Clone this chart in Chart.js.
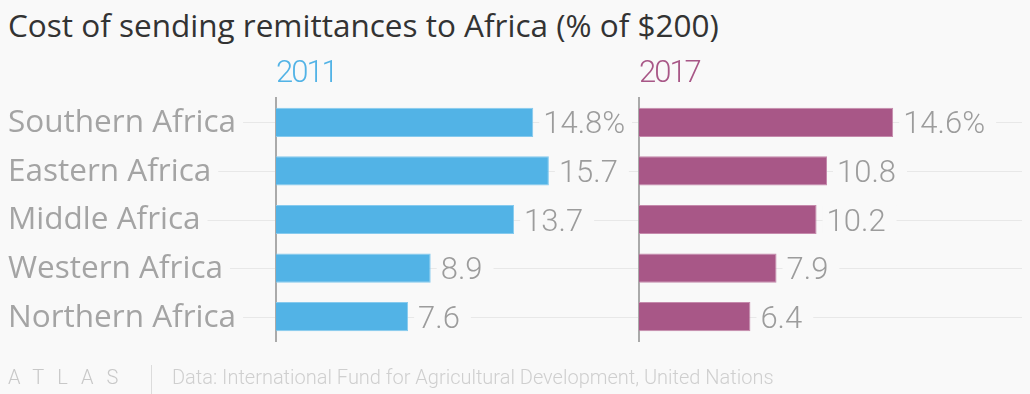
<!DOCTYPE html>
<html>
<head>
<meta charset="utf-8">
<script src="https://cdn.jsdelivr.net/npm/chart.js@4/dist/chart.umd.min.js"></script>
<style>
  body { margin: 0; background: #f9f9f9; width: 1030px; height: 394px; overflow: hidden; position: relative; font-family: Roboto, sans-serif; }
  #title { position: absolute; left: 8px; top: 3px; font: 400 31.5px "Open Sans"; color: #333; white-space: nowrap; }
  #left { position: absolute; left: 0; top: 0; }
  #right { position: absolute; left: 632px; top: 0; }
  #logo { position: absolute; left: 8px; top: 365px; font: 300 20px Roboto; letter-spacing: 13px; color: #c8c8c8; white-space: nowrap; }
  #sep { position: absolute; left: 151px; top: 365px; width: 1px; height: 29px; background: #dcdcdc; }
  #source { position: absolute; left: 172px; top: 365px; font: 300 20px Roboto; color: #cfcfcf; white-space: nowrap; }
</style>
</head>
<body>
<div id="title">Cost of sending remittances to Africa (% of $200)</div>
<canvas id="left" width="641" height="394"></canvas>
<canvas id="right" width="398" height="394"></canvas>
<div id="logo">ATLAS</div>
<div id="sep"></div>
<div id="source">Data: International Fund for Agricultural Development, United Nations</div>
<script>
const regions = ['Southern Africa', 'Eastern Africa', 'Middle Africa', 'Western Africa', 'Northern Africa'];
const cost2011 = [14.8, 15.7, 13.7, 8.9, 7.6];
const cost2017 = [14.6, 10.8, 10.2, 7.9, 6.4];
const years = ['2011', '2017'];

const bg = '#f9f9f9';

// light row lines behind everything, masked by the label backdrops
const rowLines = {
  id: 'rowLines',
  beforeDraw(chart, args, opts) {
    const ctx = chart.ctx;
    const y = chart.scales.y;
    ctx.save();
    ctx.strokeStyle = '#e8e8e8';
    ctx.lineWidth = 1;
    regions.forEach((r, i) => {
      const py = Math.round(y.getPixelForValue(i)) + 0.5;
      ctx.beginPath();
      ctx.moveTo(opts.from, py);
      ctx.lineTo(opts.to == null ? chart.chartArea.right : opts.to, py);
      ctx.stroke();
    });
    ctx.restore();
  }
};

// value at the end of each bar + the year above the panel
const valueLabels = {
  id: 'valueLabels',
  afterDatasetsDraw(chart) {
    const ctx = chart.ctx;
    const ds = chart.data.datasets[0];
    const meta = chart.getDatasetMeta(0);
    ctx.save();
    ctx.font = '300 31px Roboto';
    ctx.textBaseline = 'alphabetic';
    meta.data.forEach((bar, i) => {
      const txt = ds.data[i].toFixed(1) + (i === 0 ? '%' : '');
      const x = bar.x + 10;
      const w = ctx.measureText(txt).width;
      ctx.fillStyle = bg;
      ctx.fillRect(x - 4, bar.y - 14, w + 15, 28);
      ctx.fillStyle = '#9c9c9c';
      ctx.fillText(txt, x, bar.y + 11);
    });
    ctx.fillStyle = ds.backgroundColor;
    ctx.letterSpacing = '-2px';
    ctx.fillText(ds.label, chart.chartArea.left, 82);
    ctx.restore();
  }
};

function panel(id, values, label, color, edge, max, pad, withLabels, lineFrom, lineTo) {
  return new Chart(document.getElementById(id), {
    type: 'bar',
    data: {
      labels: regions,
      datasets: [{
        label: label,
        data: values,
        backgroundColor: color,
        borderColor: edge,
        borderWidth: 1,
        barPercentage: 0.6,
        categoryPercentage: 1
      }]
    },
    options: {
      indexAxis: 'y',
      responsive: false,
      animation: false,
      layout: { padding: pad },
      plugins: {
        legend: { display: false },
        tooltip: { enabled: false },
        rowLines: { from: lineFrom, to: lineTo }
      },
      scales: {
        x: { display: false, min: 0, max: max },
        y: {
          grid: { display: false },
          border: { display: true, color: '#aaaaaa', width: 2 },
          ticks: {
            display: withLabels,
            crossAlign: 'far',
            padding: 0,
            labelOffset: 1,
            color: '#a4a4a4',
            font: { family: 'Open Sans', size: 31.5, weight: 400 },
            showLabelBackdrop: true,
            backdropColor: bg,
            backdropPadding: { left: 0, right: 7, top: 0, bottom: 0 }
          },
          afterFit(scale) { scale.width = withLabels ? 268 : 0; }
        }
      }
    },
    plugins: [rowLines, valueLabels]
  });
}

panel('left', cost2011, years[0], '#52b3e6', '#86caee', 21,
  { left: 8, right: 0, top: 98, bottom: 53 }, true, 8, 641);
panel('right', cost2017, years[1], '#a85787', '#c58aac', 22,
  { left: 7, right: 8, top: 98, bottom: 53 }, false, 0, null);
</script>
</body>
</html>
